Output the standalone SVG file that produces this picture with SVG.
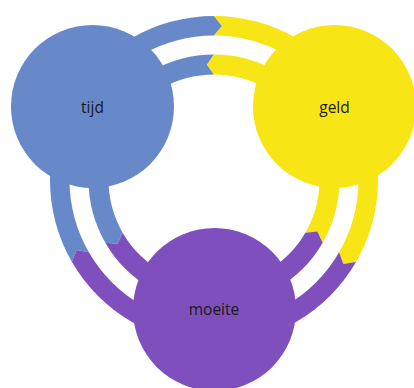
<svg xmlns="http://www.w3.org/2000/svg" width="414" height="388" viewBox="0 0 414 388">
  <style>
    .blue { fill: #6789c9; }
    .yellow { fill: #f8e516; }
    .purple { fill: #7f50bd; }
    .label { font-family: "Open Sans", "Liberation Sans", Arial, sans-serif; font-size: 15.5px; fill: #1a1a1a; text-anchor: middle; }
  </style>
  <rect width="414" height="388" fill="#ffffff"/>
  <g id="connectors">
    <!-- outer ring (clockwise arrows) -->
    <path class="blue" d="M 71.97 262 A 164 164 0 0 1 214 16 L 222.07 25.96 L 214 35.5 A 144.5 144.5 0 0 0 88.86 252.25 L 76.56 250.03 Z"/>
    <path class="yellow" d="M 214 16 A 164 164 0 0 1 356.03 262 L 343.37 264 L 339.14 252.25 A 144.5 144.5 0 0 0 214 35.5 L 222.07 25.96 Z"/>
    <path class="purple" d="M 356.03 262 A 164 164 0 0 1 71.97 262 L 76.56 250.03 L 88.86 252.25 A 144.5 144.5 0 0 0 339.14 252.25 L 343.37 264 Z"/>
    <!-- inner ring (counter-clockwise arrows) -->
    <path class="blue" d="M 105.32 242.75 A 125.5 125.5 0 0 1 214 54.5 L 206.95 64.72 L 214 74.5 A 105.5 105.5 0 0 0 122.64 232.75 L 117.68 243.75 Z"/>
    <path class="yellow" d="M 214 54.5 A 125.5 125.5 0 0 1 322.68 242.75 L 317.36 231.54 L 305.36 232.75 A 105.5 105.5 0 0 0 214 74.5 L 206.95 64.72 Z"/>
    <path class="purple" d="M 322.68 242.75 A 125.5 125.5 0 0 1 105.32 242.75 L 117.68 243.75 L 122.64 232.75 A 105.5 105.5 0 0 0 305.36 232.75 L 317.36 231.54 Z"/>
  </g>
  <g id="tijd">
    <circle class="blue" cx="92.5" cy="106.5" r="81.5"/>
    <text class="label" x="92.5" y="113">tijd</text>
  </g>
  <g id="geld">
    <circle class="yellow" cx="334.5" cy="106.5" r="81.5"/>
    <text class="label" x="334.5" y="113">geld</text>
  </g>
  <g id="moeite">
    <circle class="purple" cx="214.5" cy="309.5" r="81.5"/>
    <text class="label" x="214" y="315">moeite</text>
  </g>
</svg>
